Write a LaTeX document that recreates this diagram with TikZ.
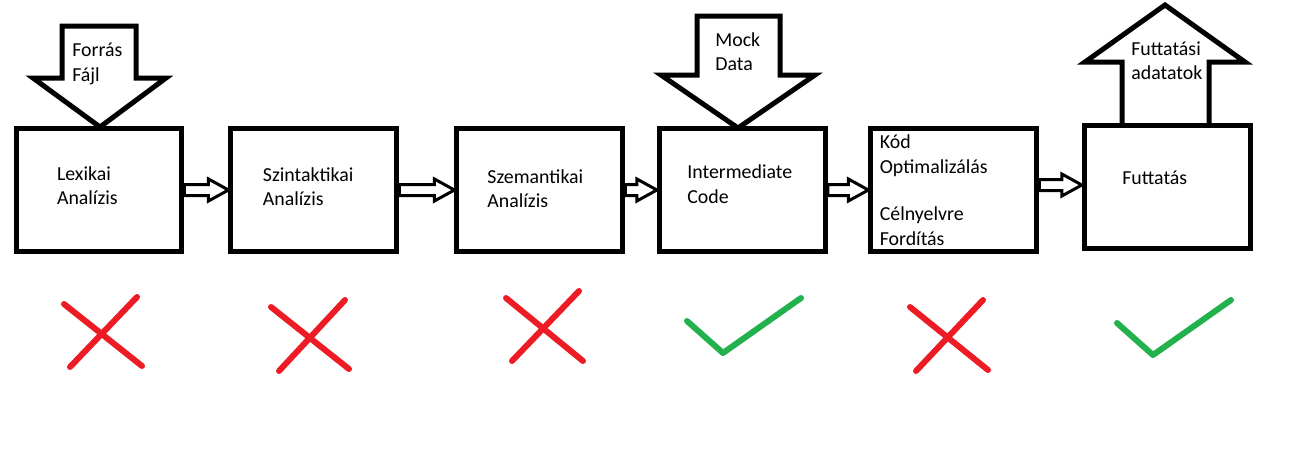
\documentclass[tikz,border=0pt]{standalone}
\usepackage{fontspec}
\setmainfont{Carlito}
\usetikzlibrary{positioning}
\usetikzlibrary{calc}

\definecolor{nored}{RGB}{237,28,36}
\definecolor{okgreen}{RGB}{34,177,76}

\begin{document}
\begin{tikzpicture}[x=0.02cm, y=-0.02cm,
	font=\fontsize{11.3pt}{14pt}\selectfont,
	box/.style={draw, line width=0.1cm, minimum width=3.32cm, minimum height=2.46cm, inner sep=0pt, align=left},
	lbl/.style={anchor=north west, align=left, inner sep=0pt},
	bigarrow/.style={draw, line width=0.1cm, line join=miter},
	hollow/.style={draw, line width=0.06cm, to path={let \p1=(\tikztostart), \p2=(\tikztotarget) in
		(\x1,\y1+0.11cm) -- (\x2-0.4cm,\y1+0.11cm) -- (\x2-0.4cm,\y1+0.22cm) -- (\x2,\y1)
		-- (\x2-0.4cm,\y1-0.22cm) -- (\x2-0.4cm,\y1-0.11cm) -- (\x1,\y1-0.11cm) -- cycle}},
	cross/.style={draw=nored, line width=0.12cm, line cap=round},
	check/.style={draw=okgreen, line width=0.12cm, line cap=round, line join=round}]
	\useasboundingbox (0,0) rectangle (1313,460);
	% the six steps
	\node[box, text width=1.68cm, text depth=0.67cm] (lex) at (99,190) {Lexikai\\Analízis};
	\node[box, text width=2.04cm, text depth=0.63cm, right=0.88cm of lex] (szin) {Szintaktikai\\Analízis};
	\node[box, text width=2.1cm, text depth=0.55cm, right=1.1cm of szin] (szem) {Szemantikai\\Analízis};
	\node[box, text width=2.2cm, text depth=0.73cm, right=0.63cm of szem] (inter) {Intermediate\\Code};
	\node[box, text width=2.96cm, right=0.81cm of inter] (opt) {Kód\\Optimalizálás\\[0.46cm]Célnyelvre\\Fordítás};
	\node[box, text width=1.8cm, text depth=0.36cm, right=0.85cm of opt, yshift=0.06cm] (run) {Futtatás};
	\path[hollow] (lex.east) to (szin.west);
	\path[hollow] (szin.east) to (szem.west);
	\path[hollow] (szem.east) to (inter.west);
	\path[hollow] (inter.east) to (opt.west);
	\path[hollow] ([yshift=0.1cm]opt.east) to (run.west);
	% input and output arrows
	\draw[bigarrow] (62,26) -- (136,26) -- (136,78) -- (166,78) -- (100,127) -- (33,78) -- (62,78) -- cycle;
	\node[lbl] (forras) at (72,43) {Forrás\\Fájl};
	\draw[bigarrow] (697,16) -- (780,16) -- (780,75) -- (815,75) -- (738,128) -- (661,75) -- (697,75) -- cycle;
	\node[lbl] (mock) at (715,32) {Mock\\Data};
	\draw[bigarrow] (1122,124) -- (1122,62) -- (1085,62) -- (1165,5) -- (1245,62) -- (1209,62) -- (1209,124);
	\node[lbl] (futadat) at (1131,41) {Futtatási\\adatatok};
	% marks
	\draw[cross] (64,304) -- (142,366) (137,297) -- (70,367);
	\draw[cross] (271,307) -- (349,369) (345,300) -- (279,371);
	\draw[cross] (506,298) -- (583,361) (579,291) -- (512,361);
	\draw[check] (687,321) -- (723,353) -- (801,298);
	\draw[cross] (910,307) -- (988,370) (983,300) -- (916,371);
	\draw[check] (1117,323) -- (1153,355) -- (1231,300);
\end{tikzpicture}
\end{document}
